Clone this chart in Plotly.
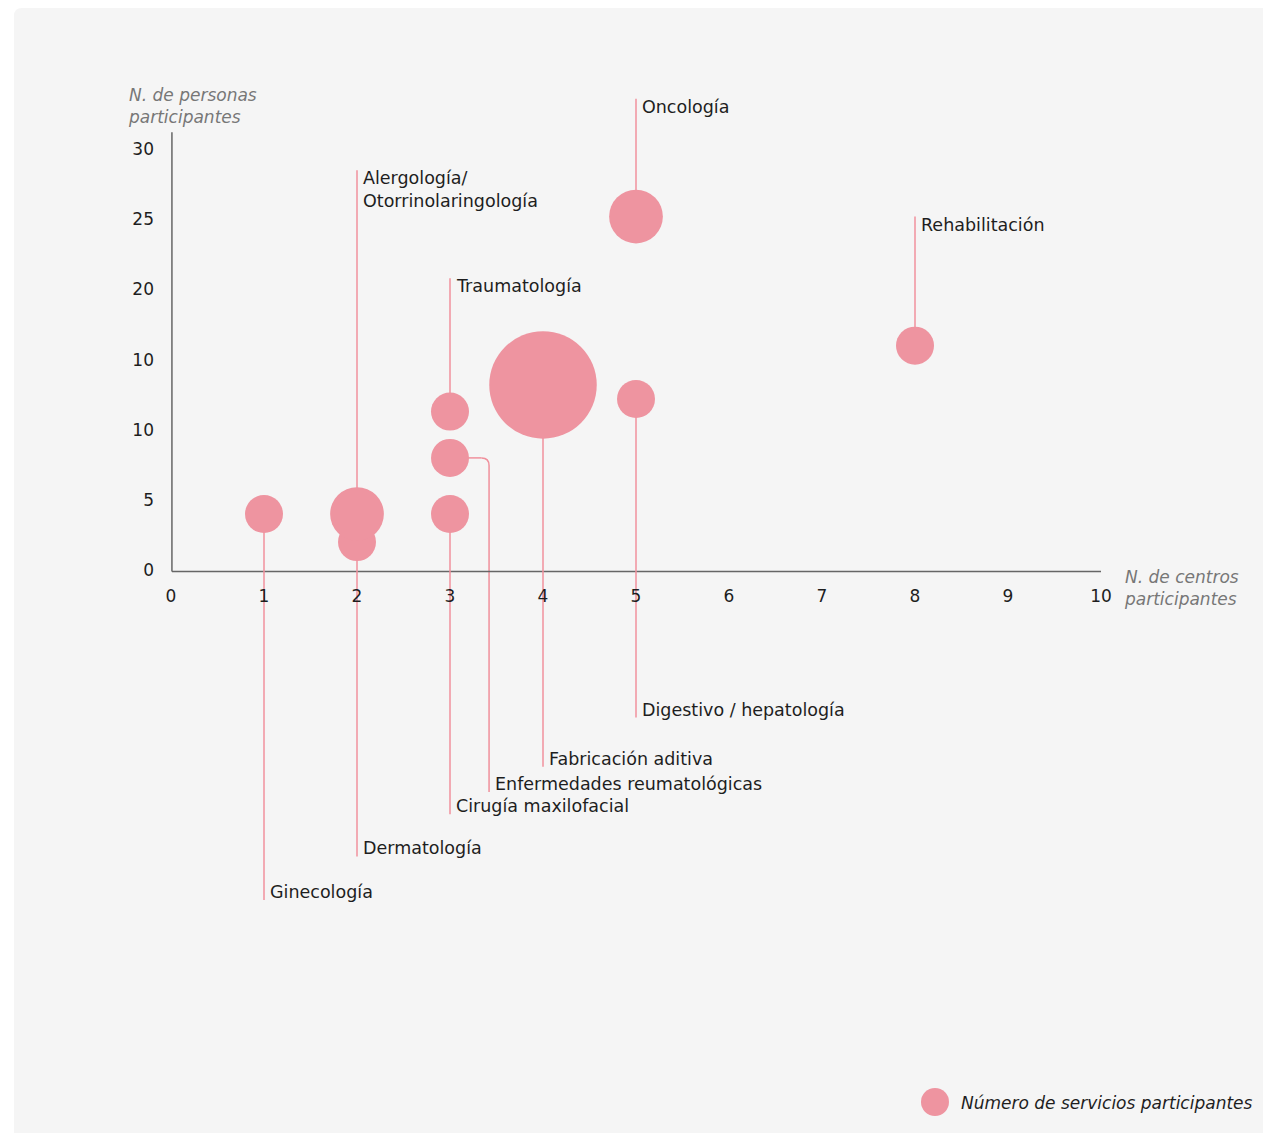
import plotly.graph_objects as go

# data
areas = ["Ginecología", "Dermatología", "Alergología/<br>Otorrinolaringología",
         "Cirugía maxilofacial", "Enfermedades reumatológicas", "Traumatología",
         "Fabricación aditiva", "Digestivo / hepatología", "Oncología", "Rehabilitación"]
centros = [1, 2, 2, 3, 3, 3, 4, 5, 5, 8]
personas = [4, 2, 4, 4, 8, 11.3, 13.2, 12.2, 25.2, 16]
servicios = [1, 1, 2, 1, 1, 1, 8, 1, 2, 1]

y_tickvals = [0, 5, 10, 15, 20, 25, 30]
y_ticktext = ["0", "5", "10", "10", "20", "25", "30"]
x_tickvals = list(range(0, 11))

# where each leader line ends (y, in chart units)
label_end = [-23.5, -20.4, 28.5, -17.4, -15.8, 20.8, -14.0, -10.5, 33.6, 25.2]
elbow_x = 3.42  # Enfermedades reumatológicas goes right then down

PINK = '#ee94a0'
LINE = '#f0909c'
TEXT = '#1e1e1e'
GREY = '#777777'
FONT = 'DejaVu Sans'

W, H = 1263, 1133
L, T = 171, 79
PW, PH = 930, 842
R, B = W - L - PW, H - T - PH


def px(x):
    return (x - L) / PW


def py(y):
    return 1 - (y - T) / PH


fig = go.Figure()

# leader lines
lx, ly = [], []
for i in range(len(areas)):
    if i == 4:
        lx += [centros[i], elbow_x - 0.08, None]
        ly += [personas[i], personas[i], None]
        fig.add_shape(type='path', xref='x', yref='y', layer='below',
                      path=f"M {elbow_x - 0.08},{personas[i]} Q {elbow_x},{personas[i]} {elbow_x},{personas[i] - 0.55} "
                           f"L {elbow_x},{label_end[i]}",
                      line=dict(color=LINE, width=1.5))
    else:
        lx += [centros[i], centros[i], None]
        ly += [personas[i], label_end[i], None]
fig.add_trace(go.Scatter(x=lx, y=ly, mode='lines', line=dict(color=LINE, width=1.5),
                         hoverinfo='skip', showlegend=False))

fig.add_trace(go.Scatter(
    x=centros, y=personas, mode='markers',
    marker=dict(size=servicios, sizemode='area', sizeref=2 / 1444, color=PINK,
                opacity=1, line=dict(width=0)),
    text=areas, hovertemplate='%{text}<br>Centros: %{x}<br>Personas: %{y}<extra></extra>',
    showlegend=False))

# labels
for i, name in enumerate(areas):
    up = label_end[i] > personas[i]
    fig.add_annotation(
        x=elbow_x if i == 4 else centros[i], y=label_end[i], text=name,
        xref='x', yref='y', showarrow=False, xanchor='left',
        yanchor='top' if up else 'bottom', xshift=4, yshift=4 if up else -4,
        align='left', font=dict(family=FONT, size=17.5, color=TEXT))

# axis lines
fig.add_shape(type='line', xref='x', yref='y', x0=0.01, x1=10.02, y0=-0.1, y1=-0.1,
              line=dict(color='#666666', width=1.5), layer='below')
fig.add_shape(type='line', xref='x', yref='y', x0=0.01, x1=0.01, y0=-0.1, y1=31.2,
              line=dict(color='#666666', width=1.5), layer='below')

# axis titles
fig.add_annotation(x=px(126), y=py(106), xref='paper', yref='paper', showarrow=False,
                   xanchor='left', yanchor='middle', align='left',
                   text='<i>N. de personas<br>participantes</i>',
                   font=dict(family=FONT, size=17, color=GREY))
fig.add_annotation(x=px(1122), y=py(588), xref='paper', yref='paper', showarrow=False,
                   xanchor='left', yanchor='middle', align='left',
                   text='<i>N. de centros<br>participantes</i>',
                   font=dict(family=FONT, size=17, color=GREY))

# legend
fig.add_shape(type='circle', xref='paper', yref='paper', layer='above',
              x0=px(921), x1=px(949), y0=py(1088), y1=py(1116),
              fillcolor=PINK, line=dict(width=0))
fig.add_annotation(x=px(959), y=py(1103), xref='paper', yref='paper', showarrow=False,
                   xanchor='left', yanchor='middle',
                   text='<i>Número de servicios participantes</i>',
                   font=dict(family=FONT, size=17, color=TEXT))

# grey rounded panel
x0, x1, y0, y1, r = px(14), px(1300), py(8), py(1170), 8
rx, ry = r / PW, r / PH
fig.add_shape(type='path', xref='paper', yref='paper', layer='below',
              path=f"M {x0},{y0 - ry} Q {x0},{y0} {x0 + rx},{y0} L {x1},{y0} L {x1},{y1} L {x0},{y1} Z",
              fillcolor='#f5f5f5', line=dict(width=0))

fig.update_xaxes(range=[0, 10], tickvals=x_tickvals, showgrid=False, zeroline=False,
                 showline=False, anchor='free', position=25 / 60, ticks='',
                 ticklabelstandoff=14, tickfont=dict(family=FONT, size=17, color=TEXT))
fig.update_yaxes(range=[-25, 35], tickvals=y_tickvals, ticktext=y_ticktext,
                 showgrid=False, zeroline=False, showline=False, ticks='',
                 ticklabelstandoff=16, tickfont=dict(family=FONT, size=17, color=TEXT))

fig.update_layout(
    width=W, height=H,
    margin=dict(l=L, r=R, t=T, b=B),
    paper_bgcolor='white', plot_bgcolor='rgba(0,0,0,0)',
    font=dict(family=FONT, size=17, color=TEXT),
    showlegend=False,
)

fig.write_html("out.html", config={'displayModeBar': False},
               post_script="document.body.style.margin='0';")
